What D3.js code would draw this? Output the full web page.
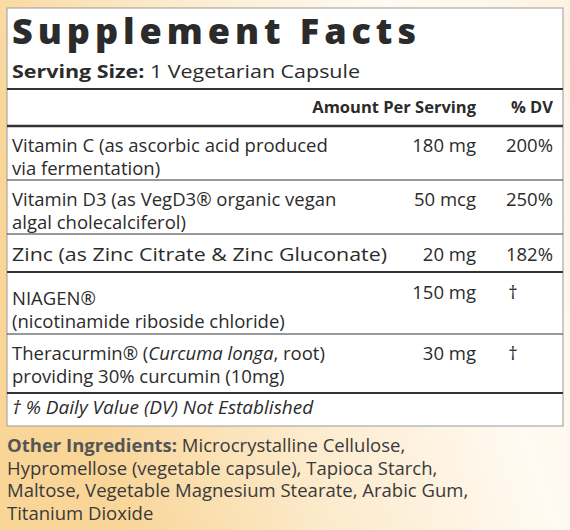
<!DOCTYPE html>
<html><head><meta charset="utf-8">
<script src="https://cdn.jsdelivr.net/npm/d3@7"></script>
<style>body{margin:0;}svg{display:block;}</style>
</head><body><svg id="c" width="570" height="530"></svg>
<script>
const title = "Supplement Facts";
const servingLabel = "Serving Size:";
const servingValue = " 1 Vegetarian Capsule";
const headers = ["Amount Per Serving", "% DV"];
const nutrientLines = [
  [["Vitamin C (as ascorbic acid produced"], ["via fermentation)"]],
  [["Vitamin D3 (as VegD3® organic vegan"], ["algal cholecalciferol)"]],
  [["Zinc (as Zinc Citrate & Zinc Gluconate)"]],
  [["NIAGEN®"], ["(nicotinamide riboside chloride)"]],
  [["Theracurmin® (", "Curcuma longa", ", root)"], ["providing 30% curcumin (10mg)"]]
];
const amounts = ["180 mg", "50 mcg", "20 mg", "150 mg", "30 mg"];
const dvs = ["200%", "250%", "182%", "†", "†"];
const footnote = "† % Daily Value (DV) Not Established";
const otherLabel = "Other Ingredients:";
const otherLines = [" Microcrystalline Cellulose,", "Hypromellose (vegetable capsule), Tapioca Starch,", "Maltose, Vegetable Magnesium Stearate, Arabic Gum,", "Titanium Dioxide"];

const svg = d3.select("#c");
const F = "'Open Sans', Lato, sans-serif";
const defs = svg.append("defs");
const g = defs.append("linearGradient").attr("id","bg").attr("x1","0").attr("x2","1").attr("y1","0.3").attr("y2","0");
g.append("stop").attr("offset","0").attr("stop-color","#f9d597");
g.append("stop").attr("offset","0.35").attr("stop-color","#fcebcd");
g.append("stop").attr("offset","0.7").attr("stop-color","#fffaf2");
g.append("stop").attr("offset","1").attr("stop-color","#fdf3e2");
svg.append("rect").attr("width",570).attr("height",530).attr("fill","url(#bg)");
svg.append("rect").attr("x",7).attr("y",8).attr("width",556).attr("height",418).attr("fill","#fff").attr("stroke","#999").attr("stroke-width",1);

const ink = "#2b2b2b";
svg.append("text").attr("x",12).attr("y",44).attr("font-family",F).attr("font-weight",800).attr("font-size",36)
  .attr("textLength",404).attr("lengthAdjust","spacing").attr("fill",ink).text(title);
const s = svg.append("text").attr("x",12).attr("y",78).attr("font-family",F).attr("font-size",18)
  .attr("textLength",348).attr("lengthAdjust","spacingAndGlyphs").attr("fill",ink);
s.append("tspan").attr("font-weight",700).text(servingLabel);
s.append("tspan").text(servingValue);

function hline(y,w){svg.append("line").attr("x1",7).attr("x2",563).attr("y1",y).attr("y2",y).attr("stroke","#333").attr("stroke-width",w);}
hline(89,2); hline(126,2.5);
svg.append("text").attr("x",476).attr("y",113).attr("text-anchor","end").attr("font-family",F).attr("font-weight",700).attr("font-size",16.5).attr("fill",ink).text(headers[0]);
svg.append("text").attr("x",553).attr("y",113).attr("text-anchor","end").attr("font-family",F).attr("font-weight",700).attr("font-size",16.5).attr("fill",ink).text(headers[1]);

const rowTops = [152, 206, 261, 305, 360];
const seps = [180, 234, 272, 334, 393];
const seW = [1, 1, 2, 1, 2];
const lineH = 22.5;
const fs = 18.5;
nutrientLines.forEach((lines,i)=>{
  lines.forEach((parts,j)=>{
    const t = svg.append("text").attr("x",12).attr("y",rowTops[i]+j*lineH).attr("font-family",F).attr("font-size",fs).attr("fill",ink);
    if(i===2) t.attr("textLength",375).attr("lengthAdjust","spacingAndGlyphs");
    parts.forEach((p,k)=>t.append("tspan").attr("font-style", (i===4&&j===0&&k===1)?"italic":"normal").text(p));
  });
  const dagger = dvs[i]==="†";
  const y = rowTops[i] + (i===3?-6:0);
  svg.append("text").attr("x",476).attr("y",y).attr("text-anchor","end").attr("font-family",F).attr("font-size",fs).attr("fill",ink).text(amounts[i]);
  svg.append("text").attr("x", dagger?513:553).attr("y",y).attr("text-anchor", dagger?"middle":"end").attr("font-family",F).attr("font-size",fs).attr("fill",ink).text(dvs[i]);
  hline(seps[i], seW[i]);
});
svg.append("text").attr("x",12).attr("y",414).attr("font-family",F).attr("font-style","italic").attr("font-size",19).attr("fill",ink).text(footnote);

otherLines.forEach((l,i)=>{
  const t = svg.append("text").attr("x",7).attr("y",452+i*22.5).attr("font-family",F).attr("font-size",18.5).attr("fill","#3a3a3a");
  if(i===0) t.append("tspan").attr("font-weight",700).attr("fill","#555").text(otherLabel);
  t.append("tspan").text(l);
});
</script></body></html>
